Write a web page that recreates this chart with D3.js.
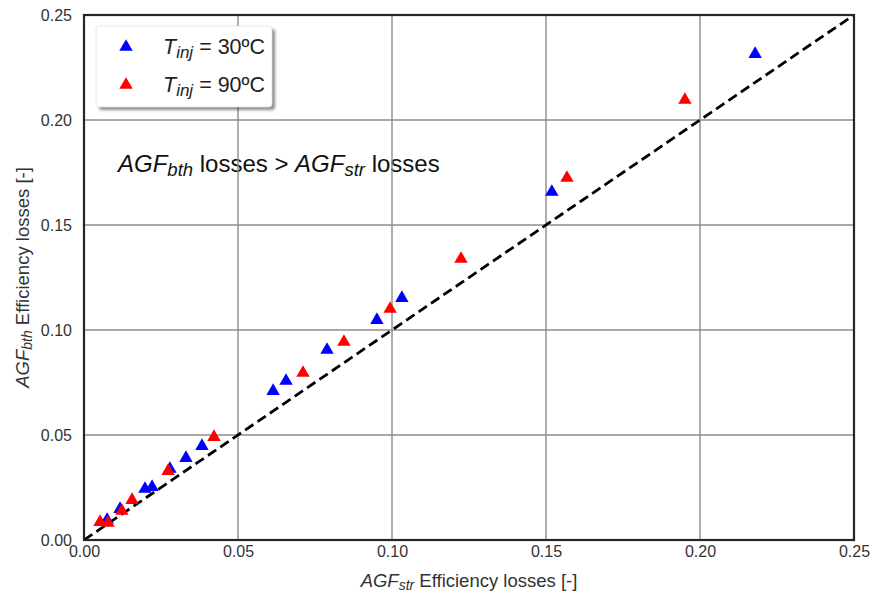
<!DOCTYPE html>
<html>
<head>
<meta charset="utf-8">
<script src="https://cdn.jsdelivr.net/npm/d3@7"></script>
<style>
  body { margin: 0; background: #fff; }
  svg { display: block; font-family: "Liberation Sans", Arial, sans-serif; }
</style>
</head>
<body>
<svg id="chart" width="870" height="596"></svg>
<script>
// Data (x = AGF_str losses, y = AGF_bth losses)
const series30X = [0.0075, 0.0117, 0.0198, 0.0221, 0.0279, 0.0331, 0.0383, 0.0614, 0.0656, 0.0789, 0.0951, 0.1032, 0.1519, 0.2179];
const series30Y = [0.0100, 0.0152, 0.0248, 0.0257, 0.0343, 0.0395, 0.0452, 0.0714, 0.0762, 0.0910, 0.1052, 0.1157, 0.1662, 0.2319];
const series90X = [0.0052, 0.0078, 0.0123, 0.0156, 0.0273, 0.0422, 0.0711, 0.0844, 0.0994, 0.1224, 0.1568, 0.1951];
const series90Y = [0.0090, 0.0086, 0.0143, 0.0195, 0.0333, 0.0495, 0.0800, 0.0948, 0.1105, 0.1343, 0.1729, 0.2100];
const xTicks = [0.00, 0.05, 0.10, 0.15, 0.20, 0.25];
const yTicks = [0.00, 0.05, 0.10, 0.15, 0.20, 0.25];
const legendLabels = ["30ºC", "90ºC"];
const colors = ["#0000ff", "#ff0000"];

const svg = d3.select("#chart");
const L = 84, R = 854, T = 15, B = 540;
const x = d3.scaleLinear().domain([0, 0.25]).range([L, R]);
const y = d3.scaleLinear().domain([0, 0.25]).range([B, T]);

const defs = svg.append("defs");
const clip = defs.append("clipPath").attr("id", "clip");
clip.append("rect").attr("x", L).attr("y", T).attr("width", R - L).attr("height", B - T);
const filt = defs.append("filter").attr("id", "shadow").attr("x", "-10%").attr("y", "-10%").attr("width", "130%").attr("height", "140%");
filt.append("feGaussianBlur").attr("in", "SourceAlpha").attr("stdDeviation", 1.5);

// Annotation (drawn under grid)
const ann = svg.append("text").attr("x", 118).attr("y", 172).attr("font-size", 24).attr("fill", "#111");
ann.append("tspan").attr("font-style", "italic").text("AGF");
ann.append("tspan").attr("font-style", "italic").attr("font-size", 18.5).attr("dy", 4).text("bth");
ann.append("tspan").attr("dy", -4).text(" losses > ");
ann.append("tspan").attr("font-style", "italic").text("AGF");
ann.append("tspan").attr("font-style", "italic").attr("font-size", 18.5).attr("dy", 4).text("str");
ann.append("tspan").attr("dy", -4).text(" losses");

// Grid
const grid = svg.append("g");
grid.selectAll(".gx").data(xTicks.slice(1, -1)).join("line")
  .attr("x1", d => x(d)).attr("x2", d => x(d)).attr("y1", T).attr("y2", B)
  .attr("stroke", "#8c8c8c").attr("stroke-width", 1.4);
grid.selectAll(".gy").data(yTicks.slice(1, -1)).join("line")
  .attr("y1", d => y(d)).attr("y2", d => y(d)).attr("x1", L).attr("x2", R)
  .attr("stroke", "#8c8c8c").attr("stroke-width", 1.4);

// Axes (labels only)
const xAxis = svg.append("g").attr("transform", `translate(0,${B})`)
  .call(d3.axisBottom(x).tickValues(xTicks).tickFormat(d3.format(".2f")).tickSize(0).tickPadding(6));
const yAxis = svg.append("g").attr("transform", `translate(${L},0)`)
  .call(d3.axisLeft(y).tickValues(yTicks).tickFormat(d3.format(".2f")).tickSize(0).tickPadding(12));
[xAxis, yAxis].forEach(a => {
  a.select(".domain").remove();
  a.selectAll("text").attr("font-size", 16).attr("fill", "#333").attr("font-family", "Liberation Sans, Arial, sans-serif");
});

// Diagonal
const plot = svg.append("g").attr("clip-path", "url(#clip)");
plot.append("line")
  .attr("x1", x(0)).attr("y1", y(0)).attr("x2", x(0.25)).attr("y2", y(0.25))
  .attr("stroke", "#000").attr("stroke-width", 2.8).attr("stroke-dasharray", "10,5");

// Points
const tri = d3.symbol().type(d3.symbolTriangle).size(78);
function drawSeries(xs, ys, color) {
  plot.append("g").selectAll("path").data(xs.map((v, i) => [v, ys[i]])).join("path")
    .attr("d", tri)
    .attr("transform", d => `translate(${x(d[0])},${y(d[1]) + 1})`)
    .attr("fill", color);
}
drawSeries(series30X, series30Y, colors[0]);
drawSeries(series90X, series90Y, colors[1]);

// Frame
svg.append("rect").attr("x", L).attr("y", T).attr("width", R - L).attr("height", B - T)
  .attr("fill", "none").attr("stroke", "#262626").attr("stroke-width", 2.2);

// Axis titles
const xl = svg.append("text").attr("x", (L + R) / 2).attr("y", 587).attr("text-anchor", "middle")
  .attr("font-size", 18.5).attr("fill", "#333");
xl.append("tspan").attr("font-style", "italic").text("AGF");
xl.append("tspan").attr("font-style", "italic").attr("font-size", 14).attr("dy", 3).text("str");
xl.append("tspan").attr("dy", -3).text(" Efficiency losses [-]");

const yl = svg.append("text").attr("transform", `translate(29,${(T + B) / 2}) rotate(-90)`)
  .attr("text-anchor", "middle").attr("font-size", 18.5).attr("fill", "#333");
yl.append("tspan").attr("font-style", "italic").text("AGF");
yl.append("tspan").attr("font-style", "italic").attr("font-size", 14).attr("dy", 3).text("bth");
yl.append("tspan").attr("dy", -3).text(" Efficiency losses [-]");

// Legend
const lg = svg.append("g");
lg.append("rect").attr("x", 99).attr("y", 29).attr("width", 176).attr("height", 81).attr("rx", 3)
  .attr("fill", "#000").attr("opacity", 0.45).attr("filter", "url(#shadow)");
lg.append("rect").attr("x", 96).attr("y", 26).attr("width", 176).attr("height", 81).attr("rx", 3)
  .attr("fill", "#fff").attr("stroke", "#e0e0e0").attr("stroke-width", 0.8);
legendLabels.forEach((lab, i) => {
  const cy = 47 + i * 38;
  lg.append("path").attr("d", tri).attr("transform", `translate(126,${cy})`).attr("fill", colors[i]);
  const t = lg.append("text").attr("x", 163).attr("y", cy + 7).attr("font-size", 21.5).attr("fill", "#222");
  t.append("tspan").attr("font-style", "italic").text("T");
  t.append("tspan").attr("font-style", "italic").attr("font-size", 17).attr("dy", 4).text("inj");
  t.append("tspan").attr("dy", -4).text(" = " + lab);
});
</script>
</body>
</html>
